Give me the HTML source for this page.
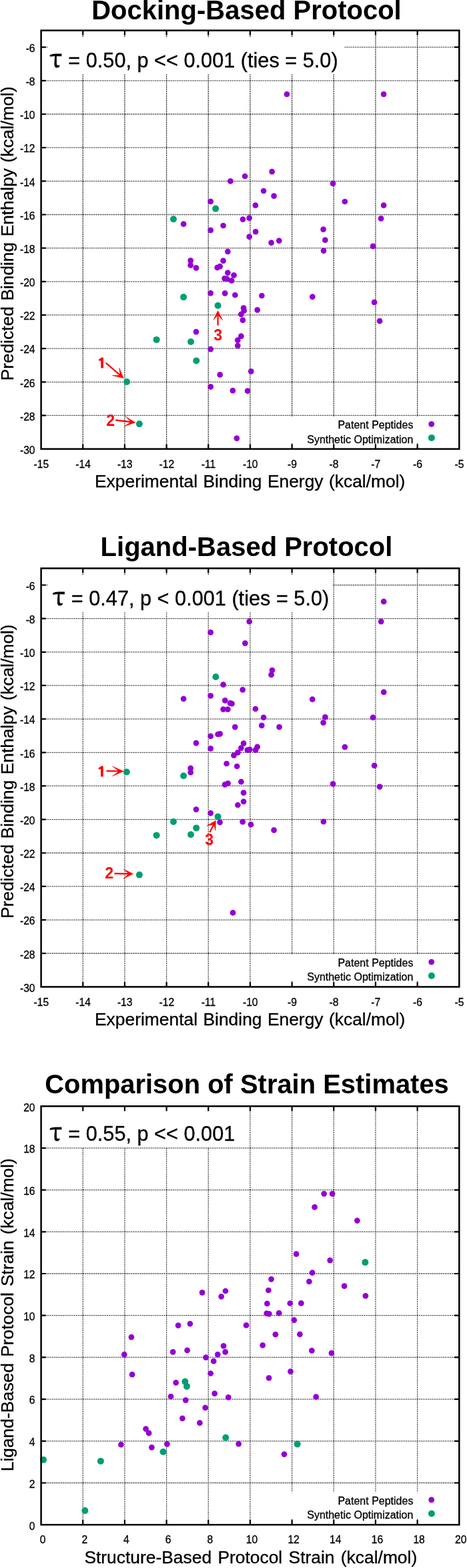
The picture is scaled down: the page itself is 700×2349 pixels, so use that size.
<!DOCTYPE html>
<html><head><meta charset="utf-8"><title>Protocol comparison</title>
<style>html,body{margin:0;padding:0;background:#fff}svg{display:block}.t{stroke:#000;stroke-width:.3px}</style></head>
<body>
<svg width="700" height="2349" viewBox="0 0 700 2349" font-family='"Liberation Sans", Arial, Helvetica, sans-serif' fill="#000">
<rect width="700" height="2349" fill="#fff"/>
<path d="M124.27 45.6V672.6M186.94 45.6V672.6M249.61 45.6V672.6M312.28 45.6V672.6M374.95 45.6V672.6M437.62 45.6V672.6M500.29 45.6V672.6M562.96 45.6V672.6M625.63 45.6V672.6M61.6 622.44H688.3M61.6 572.28H688.3M61.6 522.12H688.3M61.6 471.96H688.3M61.6 421.8H688.3M61.6 371.64H688.3M61.6 321.48H688.3M61.6 271.32H688.3M61.6 221.16H688.3M61.6 171H688.3M61.6 120.84H688.3M61.6 70.68H688.3" fill="none" stroke="#000" stroke-width="1.3" stroke-dasharray="1.3 1.45"/>
<rect x="71" y="56.2" width="445" height="55" fill="#fff"/>
<rect x="430" y="623.6" width="249" height="40" fill="#fff"/>
<circle cx="430" cy="141.1" r="4.35" fill="#9400d3"/>
<circle cx="575.1" cy="141.1" r="4.35" fill="#9400d3"/>
<circle cx="345.4" cy="271.4" r="4.35" fill="#9400d3"/>
<circle cx="407.7" cy="257.1" r="4.35" fill="#9400d3"/>
<circle cx="367.1" cy="264" r="4.35" fill="#9400d3"/>
<circle cx="499.1" cy="274.9" r="4.35" fill="#9400d3"/>
<circle cx="395.1" cy="286" r="4.35" fill="#9400d3"/>
<circle cx="410.6" cy="293.7" r="4.35" fill="#9400d3"/>
<circle cx="516.9" cy="302" r="4.35" fill="#9400d3"/>
<circle cx="382.9" cy="307.7" r="4.35" fill="#9400d3"/>
<circle cx="315.7" cy="301.9" r="4.35" fill="#9400d3"/>
<circle cx="575.1" cy="307.7" r="4.35" fill="#9400d3"/>
<circle cx="275.1" cy="335.7" r="4.35" fill="#9400d3"/>
<circle cx="334.6" cy="338" r="4.35" fill="#9400d3"/>
<circle cx="315.7" cy="344.9" r="4.35" fill="#9400d3"/>
<circle cx="364" cy="328.6" r="4.35" fill="#9400d3"/>
<circle cx="373.7" cy="326.6" r="4.35" fill="#9400d3"/>
<circle cx="383.1" cy="347.1" r="4.35" fill="#9400d3"/>
<circle cx="373.7" cy="354.6" r="4.35" fill="#9400d3"/>
<circle cx="406.6" cy="363.7" r="4.35" fill="#9400d3"/>
<circle cx="418.3" cy="360.6" r="4.35" fill="#9400d3"/>
<circle cx="484.6" cy="343.7" r="4.35" fill="#9400d3"/>
<circle cx="487.4" cy="359.7" r="4.35" fill="#9400d3"/>
<circle cx="485.1" cy="375.7" r="4.35" fill="#9400d3"/>
<circle cx="571.1" cy="327.4" r="4.35" fill="#9400d3"/>
<circle cx="559.1" cy="368.9" r="4.35" fill="#9400d3"/>
<circle cx="341.4" cy="376.9" r="4.35" fill="#9400d3"/>
<circle cx="285.7" cy="390.3" r="4.35" fill="#9400d3"/>
<circle cx="285.7" cy="397.4" r="4.35" fill="#9400d3"/>
<circle cx="294" cy="401.4" r="4.35" fill="#9400d3"/>
<circle cx="334.6" cy="390.6" r="4.35" fill="#9400d3"/>
<circle cx="329.7" cy="399.1" r="4.35" fill="#9400d3"/>
<circle cx="325.7" cy="400.9" r="4.35" fill="#9400d3"/>
<circle cx="341.4" cy="408.6" r="4.35" fill="#9400d3"/>
<circle cx="350.6" cy="412.4" r="4.35" fill="#9400d3"/>
<circle cx="336.6" cy="417.1" r="4.35" fill="#9400d3"/>
<circle cx="340" cy="417.7" r="4.35" fill="#9400d3"/>
<circle cx="347.1" cy="420.3" r="4.35" fill="#9400d3"/>
<circle cx="315.7" cy="439.1" r="4.35" fill="#9400d3"/>
<circle cx="337.2" cy="439.4" r="4.35" fill="#9400d3"/>
<circle cx="352.4" cy="442" r="4.35" fill="#9400d3"/>
<circle cx="392.4" cy="443" r="4.35" fill="#9400d3"/>
<circle cx="468.3" cy="444.6" r="4.35" fill="#9400d3"/>
<circle cx="561.1" cy="452.9" r="4.35" fill="#9400d3"/>
<circle cx="569.1" cy="480.9" r="4.35" fill="#9400d3"/>
<circle cx="365.1" cy="461.4" r="4.35" fill="#9400d3"/>
<circle cx="365.7" cy="465.4" r="4.35" fill="#9400d3"/>
<circle cx="385.7" cy="464.4" r="4.35" fill="#9400d3"/>
<circle cx="361.4" cy="470.8" r="4.35" fill="#9400d3"/>
<circle cx="363.9" cy="479.7" r="4.35" fill="#9400d3"/>
<circle cx="294" cy="497.1" r="4.35" fill="#9400d3"/>
<circle cx="361.4" cy="503.7" r="4.35" fill="#9400d3"/>
<circle cx="356.3" cy="509.7" r="4.35" fill="#9400d3"/>
<circle cx="356.3" cy="517.8" r="4.35" fill="#9400d3"/>
<circle cx="315.7" cy="523.1" r="4.35" fill="#9400d3"/>
<circle cx="376.3" cy="556.3" r="4.35" fill="#9400d3"/>
<circle cx="329.7" cy="561.4" r="4.35" fill="#9400d3"/>
<circle cx="315.7" cy="579.4" r="4.35" fill="#9400d3"/>
<circle cx="348.9" cy="585.1" r="4.35" fill="#9400d3"/>
<circle cx="371.1" cy="585.7" r="4.35" fill="#9400d3"/>
<circle cx="354.9" cy="656.6" r="4.35" fill="#9400d3"/>
<circle cx="323.2" cy="312.6" r="5" fill="#009e73"/>
<circle cx="260" cy="328.3" r="5" fill="#009e73"/>
<circle cx="275.1" cy="445.1" r="5" fill="#009e73"/>
<circle cx="326.6" cy="457.8" r="5" fill="#009e73"/>
<circle cx="234.6" cy="508.9" r="5" fill="#009e73"/>
<circle cx="286" cy="512" r="5" fill="#009e73"/>
<circle cx="294.3" cy="540.4" r="5" fill="#009e73"/>
<circle cx="190.1" cy="572" r="5" fill="#009e73"/>
<circle cx="208.9" cy="635.1" r="5" fill="#009e73"/>
<path d="M124.27 672.6v-7.2M124.27 45.6v7.2M186.94 672.6v-7.2M186.94 45.6v7.2M249.61 672.6v-7.2M249.61 45.6v7.2M312.28 672.6v-7.2M312.28 45.6v7.2M374.95 672.6v-7.2M374.95 45.6v7.2M437.62 672.6v-7.2M437.62 45.6v7.2M500.29 672.6v-7.2M500.29 45.6v7.2M562.96 672.6v-7.2M562.96 45.6v7.2M625.63 672.6v-7.2M625.63 45.6v7.2M61.6 622.44h7.2M688.3 622.44h-7.2M61.6 572.28h7.2M688.3 572.28h-7.2M61.6 522.12h7.2M688.3 522.12h-7.2M61.6 471.96h7.2M688.3 471.96h-7.2M61.6 421.8h7.2M688.3 421.8h-7.2M61.6 371.64h7.2M688.3 371.64h-7.2M61.6 321.48h7.2M688.3 321.48h-7.2M61.6 271.32h7.2M688.3 271.32h-7.2M61.6 221.16h7.2M688.3 221.16h-7.2M61.6 171h7.2M688.3 171h-7.2M61.6 120.84h7.2M688.3 120.84h-7.2M61.6 70.68h7.2M688.3 70.68h-7.2" fill="none" stroke="#000" stroke-width="2.2"/>
<rect x="61.6" y="45.6" width="626.7" height="627" fill="none" stroke="#000" stroke-width="2.5"/>
<text x="61.9" y="700.7" text-anchor="middle" font-size="15.7" class="t">-15</text>
<text x="124.57" y="700.7" text-anchor="middle" font-size="15.7" class="t">-14</text>
<text x="187.24" y="700.7" text-anchor="middle" font-size="15.7" class="t">-13</text>
<text x="249.91" y="700.7" text-anchor="middle" font-size="15.7" class="t">-12</text>
<text x="312.58" y="700.7" text-anchor="middle" font-size="15.7" class="t">-11</text>
<text x="375.25" y="700.7" text-anchor="middle" font-size="15.7" class="t">-10</text>
<text x="437.92" y="700.7" text-anchor="middle" font-size="15.7" class="t">-9</text>
<text x="500.59" y="700.7" text-anchor="middle" font-size="15.7" class="t">-8</text>
<text x="563.26" y="700.7" text-anchor="middle" font-size="15.7" class="t">-7</text>
<text x="625.93" y="700.7" text-anchor="middle" font-size="15.7" class="t">-6</text>
<text x="688.6" y="700.7" text-anchor="middle" font-size="15.7" class="t">-5</text>
<text x="52.6" y="679.9" text-anchor="end" font-size="15.7" class="t">-30</text>
<text x="52.6" y="629.74" text-anchor="end" font-size="15.7" class="t">-28</text>
<text x="52.6" y="579.58" text-anchor="end" font-size="15.7" class="t">-26</text>
<text x="52.6" y="529.42" text-anchor="end" font-size="15.7" class="t">-24</text>
<text x="52.6" y="479.26" text-anchor="end" font-size="15.7" class="t">-22</text>
<text x="52.6" y="429.1" text-anchor="end" font-size="15.7" class="t">-20</text>
<text x="52.6" y="378.94" text-anchor="end" font-size="15.7" class="t">-18</text>
<text x="52.6" y="328.78" text-anchor="end" font-size="15.7" class="t">-16</text>
<text x="52.6" y="278.62" text-anchor="end" font-size="15.7" class="t">-14</text>
<text x="52.6" y="228.46" text-anchor="end" font-size="15.7" class="t">-12</text>
<text x="52.6" y="178.3" text-anchor="end" font-size="15.7" class="t">-10</text>
<text x="52.6" y="128.14" text-anchor="end" font-size="15.7" class="t">-8</text>
<text x="52.6" y="77.98" text-anchor="end" font-size="15.7" class="t">-6</text>
<text x="137.2" y="28.5" font-size="40" font-weight="bold">Docking-Based Protocol</text>
<text x="142" y="730.2" font-size="26.4" word-spacing="1.1" class="t">Experimental Binding Energy (kcal/mol)</text>
<text transform="translate(20.2 570.2) rotate(-90)" font-size="26.3" word-spacing="1.2" class="t">Predicted Binding Enthalpy (kcal/mol)</text>
<text transform="translate(74.4 101.2) scale(0.92 1)" font-family="'Noto Serif CJK SC', 'DejaVu Serif', serif" font-size="39.6" stroke="#000" stroke-width="1.1">τ</text>
<text x="102.3" y="101.4" font-size="30.7" class="t">= 0.50, p &lt;&lt; 0.001 (ties = 5.0)</text>
<text x="619.4" y="642.2" text-anchor="end" font-size="16" class="t">Patent Peptides</text>
<text x="619.4" y="663.6" text-anchor="end" font-size="16" class="t">Synthetic Optimization</text>
<circle cx="646.7" cy="635.3" r="4.4" fill="#9400d3"/>
<circle cx="646.9" cy="655.9" r="5" fill="#009e73"/>
<text transform="translate(152.6 551.1999999999999) scale(1.3 1)" text-anchor="middle" font-size="19.2" font-weight="bold" font-family="NanumGothic, IPAGothic, 'Liberation Sans', sans-serif" fill="#f00" stroke="#f00" stroke-width="0.8" stroke-linejoin="miter">1</text><path d="M158.6 543.7L182.82 564.45" fill="none" stroke="#f00" stroke-width="2.2"/><path d="M168.4 562.4L185.1 566.4L178.7 551.4L180.16 562.17Z" fill="#f00" stroke="#f00" stroke-width="0.6" stroke-linejoin="miter"/><text x="165.6" y="637.6" text-anchor="middle" font-size="23.2" font-weight="bold" fill="#f00">2</text><path d="M173.1 629.3L199.92 632.54" fill="none" stroke="#f00" stroke-width="2.2"/><path d="M188.3 624.3L202.9 632.9L186.4 638.6L196.45 632.12Z" fill="#f00" stroke="#f00" stroke-width="0.6" stroke-linejoin="miter"/><text x="326.6" y="510" text-anchor="middle" font-size="23.2" font-weight="bold" fill="#f00">3</text><path d="M326.6 487.7L326.6 468.4" fill="none" stroke="#f00" stroke-width="2.2"/><path d="M320 479.1L326.6 465.4L333.7 479.7L326.6 471.9Z" fill="#f00" stroke="#f00" stroke-width="0.6" stroke-linejoin="miter"/>
<path d="M124.27 851.4V1478.4M186.94 851.4V1478.4M249.61 851.4V1478.4M312.28 851.4V1478.4M374.95 851.4V1478.4M437.62 851.4V1478.4M500.29 851.4V1478.4M562.96 851.4V1478.4M625.63 851.4V1478.4M61.6 1428.24H688.3M61.6 1378.08H688.3M61.6 1327.92H688.3M61.6 1277.76H688.3M61.6 1227.6H688.3M61.6 1177.44H688.3M61.6 1127.28H688.3M61.6 1077.12H688.3M61.6 1026.96H688.3M61.6 976.8H688.3M61.6 926.64H688.3M61.6 876.48H688.3" fill="none" stroke="#000" stroke-width="1.3" stroke-dasharray="1.3 1.45"/>
<rect x="71" y="862" width="428" height="53.9" fill="#fff"/>
<rect x="430" y="1429.4" width="249" height="40" fill="#fff"/>
<circle cx="373.7" cy="931.1" r="4.35" fill="#9400d3"/>
<circle cx="315.7" cy="947.4" r="4.35" fill="#9400d3"/>
<circle cx="367.4" cy="963.7" r="4.35" fill="#9400d3"/>
<circle cx="408" cy="1004" r="4.35" fill="#9400d3"/>
<circle cx="406.6" cy="1010.9" r="4.35" fill="#9400d3"/>
<circle cx="334.6" cy="1025.7" r="4.35" fill="#9400d3"/>
<circle cx="363.7" cy="1033.4" r="4.35" fill="#9400d3"/>
<circle cx="275.1" cy="1046.9" r="4.35" fill="#9400d3"/>
<circle cx="315.7" cy="1042.3" r="4.35" fill="#9400d3"/>
<circle cx="337.3" cy="1049.4" r="4.35" fill="#9400d3"/>
<circle cx="345.1" cy="1053.4" r="4.35" fill="#9400d3"/>
<circle cx="347.6" cy="1054.1" r="4.35" fill="#9400d3"/>
<circle cx="575.2" cy="901.2" r="4.35" fill="#9400d3"/>
<circle cx="571.2" cy="931.2" r="4.35" fill="#9400d3"/>
<circle cx="575.2" cy="1036.9" r="4.35" fill="#9400d3"/>
<circle cx="468.2" cy="1047.7" r="4.35" fill="#9400d3"/>
<circle cx="334.6" cy="1062.6" r="4.35" fill="#9400d3"/>
<circle cx="341.4" cy="1062.6" r="4.35" fill="#9400d3"/>
<circle cx="352.3" cy="1089.1" r="4.35" fill="#9400d3"/>
<circle cx="326.6" cy="1100" r="4.35" fill="#9400d3"/>
<circle cx="329.7" cy="1099.4" r="4.35" fill="#9400d3"/>
<circle cx="315.7" cy="1102.9" r="4.35" fill="#9400d3"/>
<circle cx="294" cy="1113.1" r="4.35" fill="#9400d3"/>
<circle cx="315.7" cy="1121.4" r="4.35" fill="#9400d3"/>
<circle cx="356.5" cy="1127.3" r="4.35" fill="#9400d3"/>
<circle cx="350.5" cy="1131.7" r="4.35" fill="#9400d3"/>
<circle cx="339.6" cy="1144" r="4.35" fill="#9400d3"/>
<circle cx="355.2" cy="1148" r="4.35" fill="#9400d3"/>
<circle cx="285.7" cy="1150.9" r="4.35" fill="#9400d3"/>
<circle cx="285.7" cy="1157.1" r="4.35" fill="#9400d3"/>
<circle cx="361.4" cy="1171.2" r="4.35" fill="#9400d3"/>
<circle cx="341.6" cy="1173.5" r="4.35" fill="#9400d3"/>
<circle cx="337.1" cy="1175.4" r="4.35" fill="#9400d3"/>
<circle cx="294" cy="1212.6" r="4.35" fill="#9400d3"/>
<circle cx="315.7" cy="1218.2" r="4.35" fill="#9400d3"/>
<circle cx="329.6" cy="1231.8" r="4.35" fill="#9400d3"/>
<circle cx="356.4" cy="1206" r="4.35" fill="#9400d3"/>
<circle cx="382.9" cy="1062" r="4.35" fill="#9400d3"/>
<circle cx="395.1" cy="1074.9" r="4.35" fill="#9400d3"/>
<circle cx="487.4" cy="1074.3" r="4.35" fill="#9400d3"/>
<circle cx="484.6" cy="1082.6" r="4.35" fill="#9400d3"/>
<circle cx="392.3" cy="1086.9" r="4.35" fill="#9400d3"/>
<circle cx="418.6" cy="1089.1" r="4.35" fill="#9400d3"/>
<circle cx="365.1" cy="1113.7" r="4.35" fill="#9400d3"/>
<circle cx="361.4" cy="1120.6" r="4.35" fill="#9400d3"/>
<circle cx="385.7" cy="1118.9" r="4.35" fill="#9400d3"/>
<circle cx="370.9" cy="1123.7" r="4.35" fill="#9400d3"/>
<circle cx="374.3" cy="1122.9" r="4.35" fill="#9400d3"/>
<circle cx="383.1" cy="1123.7" r="4.35" fill="#9400d3"/>
<circle cx="516.9" cy="1119.1" r="4.35" fill="#9400d3"/>
<circle cx="499.1" cy="1174.3" r="4.35" fill="#9400d3"/>
<circle cx="365.1" cy="1187.7" r="4.35" fill="#9400d3"/>
<circle cx="365.1" cy="1200.8" r="4.35" fill="#9400d3"/>
<circle cx="363.7" cy="1231.2" r="4.35" fill="#9400d3"/>
<circle cx="376" cy="1235.2" r="4.35" fill="#9400d3"/>
<circle cx="484.9" cy="1230.9" r="4.35" fill="#9400d3"/>
<circle cx="559.1" cy="1074.9" r="4.35" fill="#9400d3"/>
<circle cx="561.1" cy="1146.9" r="4.35" fill="#9400d3"/>
<circle cx="569.1" cy="1178.6" r="4.35" fill="#9400d3"/>
<circle cx="410.6" cy="1243.7" r="4.35" fill="#9400d3"/>
<circle cx="349.1" cy="1367.4" r="4.35" fill="#9400d3"/>
<circle cx="323.4" cy="1014" r="5" fill="#009e73"/>
<circle cx="189.9" cy="1156.5" r="5" fill="#009e73"/>
<circle cx="275.1" cy="1162.3" r="5" fill="#009e73"/>
<circle cx="326.6" cy="1223.4" r="5" fill="#009e73"/>
<circle cx="260" cy="1231" r="5" fill="#009e73"/>
<circle cx="294.2" cy="1240.4" r="5" fill="#009e73"/>
<circle cx="286" cy="1250.3" r="5" fill="#009e73"/>
<circle cx="234.6" cy="1251.4" r="5" fill="#009e73"/>
<circle cx="208.9" cy="1310.6" r="5" fill="#009e73"/>
<path d="M124.27 1478.4v-7.2M124.27 851.4v7.2M186.94 1478.4v-7.2M186.94 851.4v7.2M249.61 1478.4v-7.2M249.61 851.4v7.2M312.28 1478.4v-7.2M312.28 851.4v7.2M374.95 1478.4v-7.2M374.95 851.4v7.2M437.62 1478.4v-7.2M437.62 851.4v7.2M500.29 1478.4v-7.2M500.29 851.4v7.2M562.96 1478.4v-7.2M562.96 851.4v7.2M625.63 1478.4v-7.2M625.63 851.4v7.2M61.6 1428.24h7.2M688.3 1428.24h-7.2M61.6 1378.08h7.2M688.3 1378.08h-7.2M61.6 1327.92h7.2M688.3 1327.92h-7.2M61.6 1277.76h7.2M688.3 1277.76h-7.2M61.6 1227.6h7.2M688.3 1227.6h-7.2M61.6 1177.44h7.2M688.3 1177.44h-7.2M61.6 1127.28h7.2M688.3 1127.28h-7.2M61.6 1077.12h7.2M688.3 1077.12h-7.2M61.6 1026.96h7.2M688.3 1026.96h-7.2M61.6 976.8h7.2M688.3 976.8h-7.2M61.6 926.64h7.2M688.3 926.64h-7.2M61.6 876.48h7.2M688.3 876.48h-7.2" fill="none" stroke="#000" stroke-width="2.2"/>
<rect x="61.6" y="851.4" width="626.7" height="627" fill="none" stroke="#000" stroke-width="2.5"/>
<text x="61.9" y="1506.5" text-anchor="middle" font-size="15.7" class="t">-15</text>
<text x="124.57" y="1506.5" text-anchor="middle" font-size="15.7" class="t">-14</text>
<text x="187.24" y="1506.5" text-anchor="middle" font-size="15.7" class="t">-13</text>
<text x="249.91" y="1506.5" text-anchor="middle" font-size="15.7" class="t">-12</text>
<text x="312.58" y="1506.5" text-anchor="middle" font-size="15.7" class="t">-11</text>
<text x="375.25" y="1506.5" text-anchor="middle" font-size="15.7" class="t">-10</text>
<text x="437.92" y="1506.5" text-anchor="middle" font-size="15.7" class="t">-9</text>
<text x="500.59" y="1506.5" text-anchor="middle" font-size="15.7" class="t">-8</text>
<text x="563.26" y="1506.5" text-anchor="middle" font-size="15.7" class="t">-7</text>
<text x="625.93" y="1506.5" text-anchor="middle" font-size="15.7" class="t">-6</text>
<text x="688.6" y="1506.5" text-anchor="middle" font-size="15.7" class="t">-5</text>
<text x="52.6" y="1485.7" text-anchor="end" font-size="15.7" class="t">-30</text>
<text x="52.6" y="1435.54" text-anchor="end" font-size="15.7" class="t">-28</text>
<text x="52.6" y="1385.38" text-anchor="end" font-size="15.7" class="t">-26</text>
<text x="52.6" y="1335.22" text-anchor="end" font-size="15.7" class="t">-24</text>
<text x="52.6" y="1285.06" text-anchor="end" font-size="15.7" class="t">-22</text>
<text x="52.6" y="1234.9" text-anchor="end" font-size="15.7" class="t">-20</text>
<text x="52.6" y="1184.74" text-anchor="end" font-size="15.7" class="t">-18</text>
<text x="52.6" y="1134.58" text-anchor="end" font-size="15.7" class="t">-16</text>
<text x="52.6" y="1084.42" text-anchor="end" font-size="15.7" class="t">-14</text>
<text x="52.6" y="1034.26" text-anchor="end" font-size="15.7" class="t">-12</text>
<text x="52.6" y="984.1" text-anchor="end" font-size="15.7" class="t">-10</text>
<text x="52.6" y="933.94" text-anchor="end" font-size="15.7" class="t">-8</text>
<text x="52.6" y="883.78" text-anchor="end" font-size="15.7" class="t">-6</text>
<text x="150.6" y="833.3" font-size="40" font-weight="bold">Ligand-Based Protocol</text>
<text x="142" y="1536" font-size="26.4" word-spacing="1.1" class="t">Experimental Binding Energy (kcal/mol)</text>
<text transform="translate(20.2 1376) rotate(-90)" font-size="26.3" word-spacing="1.2" class="t">Predicted Binding Enthalpy (kcal/mol)</text>
<text transform="translate(78.9 907) scale(0.92 1)" font-family="'Noto Serif CJK SC', 'DejaVu Serif', serif" font-size="39.6" stroke="#000" stroke-width="1.1">τ</text>
<text x="106.8" y="907.2" font-size="30.7" class="t">= 0.47, p &lt; 0.001 (ties = 5.0)</text>
<text x="619.4" y="1448" text-anchor="end" font-size="16" class="t">Patent Peptides</text>
<text x="619.4" y="1469.4" text-anchor="end" font-size="16" class="t">Synthetic Optimization</text>
<circle cx="646.7" cy="1441.1" r="4.4" fill="#9400d3"/>
<circle cx="646.9" cy="1461.7" r="5" fill="#009e73"/>
<text transform="translate(152.4 1162.8999999999999) scale(1.3 1)" text-anchor="middle" font-size="19.2" font-weight="bold" font-family="NanumGothic, IPAGothic, 'Liberation Sans', sans-serif" fill="#f00" stroke="#f00" stroke-width="0.8" stroke-linejoin="miter">1</text><path d="M159.3 1155L182.0 1155.35" fill="none" stroke="#f00" stroke-width="2.2"/><path d="M168.6 1148.1L185 1155.4L168.6 1162.6L178.5 1155.3Z" fill="#f00" stroke="#f00" stroke-width="0.6" stroke-linejoin="miter"/><text x="163.7" y="1316.3" text-anchor="middle" font-size="23.2" font-weight="bold" fill="#f00">2</text><path d="M171.4 1308.6L196.4 1309.05" fill="none" stroke="#f00" stroke-width="2.2"/><path d="M185.1 1302L199.4 1309.1L185.1 1316.3L192.9 1308.98Z" fill="#f00" stroke="#f00" stroke-width="0.6" stroke-linejoin="miter"/><text x="313.6" y="1265.7" text-anchor="middle" font-size="23.2" font-weight="bold" fill="#f00">3</text><path d="M314.3 1247.1L322.03 1232.07" fill="none" stroke="#f00" stroke-width="2.2"/><path d="M310 1237.1L323.4 1229.4L322.9 1244.3L320.43 1235.18Z" fill="#f00" stroke="#f00" stroke-width="0.6" stroke-linejoin="miter"/>
<path d="M124.27 1657.2V2284.2M186.94 1657.2V2284.2M249.61 1657.2V2284.2M312.28 1657.2V2284.2M374.95 1657.2V2284.2M437.62 1657.2V2284.2M500.29 1657.2V2284.2M562.96 1657.2V2284.2M625.63 1657.2V2284.2M61.6 2221.5H688.3M61.6 2158.8H688.3M61.6 2096.1H688.3M61.6 2033.4H688.3M61.6 1970.7H688.3M61.6 1908H688.3M61.6 1845.3H688.3M61.6 1782.6H688.3M61.6 1719.9H688.3" fill="none" stroke="#000" stroke-width="1.3" stroke-dasharray="1.3 1.45"/>
<rect x="71" y="1665.2" width="289" height="53.8" fill="#fff"/>
<rect x="430" y="2235.2" width="249" height="40" fill="#fff"/>
<circle cx="485.7" cy="1788.3" r="4.35" fill="#9400d3"/>
<circle cx="498.1" cy="1788.3" r="4.35" fill="#9400d3"/>
<circle cx="471.6" cy="1808.4" r="4.35" fill="#9400d3"/>
<circle cx="535.4" cy="1828.6" r="4.35" fill="#9400d3"/>
<circle cx="444.1" cy="1878.7" r="4.35" fill="#9400d3"/>
<circle cx="494.7" cy="1888.1" r="4.35" fill="#9400d3"/>
<circle cx="468.1" cy="1906.6" r="4.35" fill="#9400d3"/>
<circle cx="406.6" cy="1916.3" r="4.35" fill="#9400d3"/>
<circle cx="463.4" cy="1919.9" r="4.35" fill="#9400d3"/>
<circle cx="516.1" cy="1926.7" r="4.35" fill="#9400d3"/>
<circle cx="402.4" cy="1933" r="4.35" fill="#9400d3"/>
<circle cx="547.9" cy="1941.3" r="4.35" fill="#9400d3"/>
<circle cx="434.8" cy="1952.5" r="4.35" fill="#9400d3"/>
<circle cx="451.4" cy="1952.4" r="4.35" fill="#9400d3"/>
<circle cx="400.4" cy="1952.9" r="4.35" fill="#9400d3"/>
<circle cx="418.2" cy="1967.2" r="4.35" fill="#9400d3"/>
<circle cx="399.7" cy="1967.7" r="4.35" fill="#9400d3"/>
<circle cx="403.4" cy="1968.3" r="4.35" fill="#9400d3"/>
<circle cx="440.8" cy="1977.7" r="4.35" fill="#9400d3"/>
<circle cx="412.9" cy="1999.2" r="4.35" fill="#9400d3"/>
<circle cx="449.4" cy="1998.9" r="4.35" fill="#9400d3"/>
<circle cx="303.1" cy="1936.3" r="4.35" fill="#9400d3"/>
<circle cx="338" cy="1934" r="4.35" fill="#9400d3"/>
<circle cx="331.7" cy="1942.3" r="4.35" fill="#9400d3"/>
<circle cx="267.1" cy="1985.7" r="4.35" fill="#9400d3"/>
<circle cx="284.9" cy="1983.1" r="4.35" fill="#9400d3"/>
<circle cx="369.1" cy="1985.4" r="4.35" fill="#9400d3"/>
<circle cx="393.7" cy="2015.4" r="4.35" fill="#9400d3"/>
<circle cx="335.1" cy="2016.3" r="4.35" fill="#9400d3"/>
<circle cx="259.2" cy="2025.3" r="4.35" fill="#9400d3"/>
<circle cx="280.6" cy="2022.9" r="4.35" fill="#9400d3"/>
<circle cx="337.7" cy="2025.4" r="4.35" fill="#9400d3"/>
<circle cx="326.3" cy="2029.1" r="4.35" fill="#9400d3"/>
<circle cx="308.6" cy="2033.7" r="4.35" fill="#9400d3"/>
<circle cx="320.2" cy="2039.2" r="4.35" fill="#9400d3"/>
<circle cx="315.7" cy="2057.5" r="4.35" fill="#9400d3"/>
<circle cx="435.5" cy="2054.6" r="4.35" fill="#9400d3"/>
<circle cx="196.9" cy="2003.1" r="4.35" fill="#9400d3"/>
<circle cx="186.3" cy="2029.1" r="4.35" fill="#9400d3"/>
<circle cx="198.1" cy="2059.2" r="4.35" fill="#9400d3"/>
<circle cx="256.1" cy="2092" r="4.35" fill="#9400d3"/>
<circle cx="263.7" cy="2071.4" r="4.35" fill="#9400d3"/>
<circle cx="321.7" cy="2087.7" r="4.35" fill="#9400d3"/>
<circle cx="342.3" cy="2093.4" r="4.35" fill="#9400d3"/>
<circle cx="278.3" cy="2097.7" r="4.35" fill="#9400d3"/>
<circle cx="307.7" cy="2108.9" r="4.35" fill="#9400d3"/>
<circle cx="273.4" cy="2124.9" r="4.35" fill="#9400d3"/>
<circle cx="299.4" cy="2131.7" r="4.35" fill="#9400d3"/>
<circle cx="218.6" cy="2140.6" r="4.35" fill="#9400d3"/>
<circle cx="223.1" cy="2146.9" r="4.35" fill="#9400d3"/>
<circle cx="357.7" cy="2163.1" r="4.35" fill="#9400d3"/>
<circle cx="181.4" cy="2164.1" r="4.35" fill="#9400d3"/>
<circle cx="250.4" cy="2163.4" r="4.35" fill="#9400d3"/>
<circle cx="227.4" cy="2168.3" r="4.35" fill="#9400d3"/>
<circle cx="467.4" cy="2023.4" r="4.35" fill="#9400d3"/>
<circle cx="496.9" cy="2027.1" r="4.35" fill="#9400d3"/>
<circle cx="403.1" cy="2064.3" r="4.35" fill="#9400d3"/>
<circle cx="473.7" cy="2092.6" r="4.35" fill="#9400d3"/>
<circle cx="426" cy="2178.6" r="4.35" fill="#9400d3"/>
<circle cx="547.4" cy="1891.1" r="5" fill="#009e73"/>
<circle cx="277.4" cy="2069.7" r="5" fill="#009e73"/>
<circle cx="280" cy="2076.9" r="5" fill="#009e73"/>
<circle cx="338.3" cy="2153.7" r="5" fill="#009e73"/>
<circle cx="244.6" cy="2175" r="5" fill="#009e73"/>
<circle cx="445.7" cy="2163.4" r="5" fill="#009e73"/>
<circle cx="65" cy="2186.9" r="5" fill="#009e73"/>
<circle cx="150.9" cy="2188.9" r="5" fill="#009e73"/>
<circle cx="127.4" cy="2263.1" r="5" fill="#009e73"/>
<path d="M124.27 2284.2v-7.2M124.27 1657.2v7.2M186.94 2284.2v-7.2M186.94 1657.2v7.2M249.61 2284.2v-7.2M249.61 1657.2v7.2M312.28 2284.2v-7.2M312.28 1657.2v7.2M374.95 2284.2v-7.2M374.95 1657.2v7.2M437.62 2284.2v-7.2M437.62 1657.2v7.2M500.29 2284.2v-7.2M500.29 1657.2v7.2M562.96 2284.2v-7.2M562.96 1657.2v7.2M625.63 2284.2v-7.2M625.63 1657.2v7.2M61.6 2221.5h7.2M688.3 2221.5h-7.2M61.6 2158.8h7.2M688.3 2158.8h-7.2M61.6 2096.1h7.2M688.3 2096.1h-7.2M61.6 2033.4h7.2M688.3 2033.4h-7.2M61.6 1970.7h7.2M688.3 1970.7h-7.2M61.6 1908h7.2M688.3 1908h-7.2M61.6 1845.3h7.2M688.3 1845.3h-7.2M61.6 1782.6h7.2M688.3 1782.6h-7.2M61.6 1719.9h7.2M688.3 1719.9h-7.2" fill="none" stroke="#000" stroke-width="2.2"/>
<rect x="61.6" y="1657.2" width="626.7" height="627" fill="none" stroke="#000" stroke-width="2.5"/>
<text x="64.1" y="2312.3" text-anchor="middle" font-size="15.7" class="t">0</text>
<text x="126.77" y="2312.3" text-anchor="middle" font-size="15.7" class="t">2</text>
<text x="189.44" y="2312.3" text-anchor="middle" font-size="15.7" class="t">4</text>
<text x="252.11" y="2312.3" text-anchor="middle" font-size="15.7" class="t">6</text>
<text x="314.78" y="2312.3" text-anchor="middle" font-size="15.7" class="t">8</text>
<text x="377.45" y="2312.3" text-anchor="middle" font-size="15.7" class="t">10</text>
<text x="440.12" y="2312.3" text-anchor="middle" font-size="15.7" class="t">12</text>
<text x="502.79" y="2312.3" text-anchor="middle" font-size="15.7" class="t">14</text>
<text x="565.46" y="2312.3" text-anchor="middle" font-size="15.7" class="t">16</text>
<text x="628.13" y="2312.3" text-anchor="middle" font-size="15.7" class="t">18</text>
<text x="690.8" y="2312.3" text-anchor="middle" font-size="15.7" class="t">20</text>
<text x="52.6" y="2291.5" text-anchor="end" font-size="15.7" class="t">0</text>
<text x="52.6" y="2228.8" text-anchor="end" font-size="15.7" class="t">2</text>
<text x="52.6" y="2166.1" text-anchor="end" font-size="15.7" class="t">4</text>
<text x="52.6" y="2103.4" text-anchor="end" font-size="15.7" class="t">6</text>
<text x="52.6" y="2040.7" text-anchor="end" font-size="15.7" class="t">8</text>
<text x="52.6" y="1978" text-anchor="end" font-size="15.7" class="t">10</text>
<text x="52.6" y="1915.3" text-anchor="end" font-size="15.7" class="t">12</text>
<text x="52.6" y="1852.6" text-anchor="end" font-size="15.7" class="t">14</text>
<text x="52.6" y="1789.9" text-anchor="end" font-size="15.7" class="t">16</text>
<text x="52.6" y="1727.2" text-anchor="end" font-size="15.7" class="t">18</text>
<text x="52.6" y="1664.5" text-anchor="end" font-size="15.7" class="t">20</text>
<text x="67.2" y="1637.8" font-size="39.93" font-weight="bold">Comparison of Strain Estimates</text>
<text x="126.4" y="2341.8" font-size="26.4" word-spacing="2.0" class="t">Structure-Based Protocol Strain (kcal/mol)</text>
<text transform="translate(20.2 2204.2) rotate(-90)" font-size="26.3" word-spacing="1.9" class="t">Ligand-Based Protocol Strain (kcal/mol)</text>
<text transform="translate(74.4 1708.9) scale(0.92 1)" font-family="'Noto Serif CJK SC', 'DejaVu Serif', serif" font-size="39.6" stroke="#000" stroke-width="1.1">τ</text>
<text x="102.3" y="1709.1" font-size="30.7" class="t">= 0.55, p &lt;&lt; 0.001</text>
<text x="619.4" y="2253.8" text-anchor="end" font-size="16" class="t">Patent Peptides</text>
<text x="619.4" y="2275.2" text-anchor="end" font-size="16" class="t">Synthetic Optimization</text>
<circle cx="646.7" cy="2246.9" r="4.4" fill="#9400d3"/>
<circle cx="646.9" cy="2267.5" r="5" fill="#009e73"/>

</svg>
</body></html>
